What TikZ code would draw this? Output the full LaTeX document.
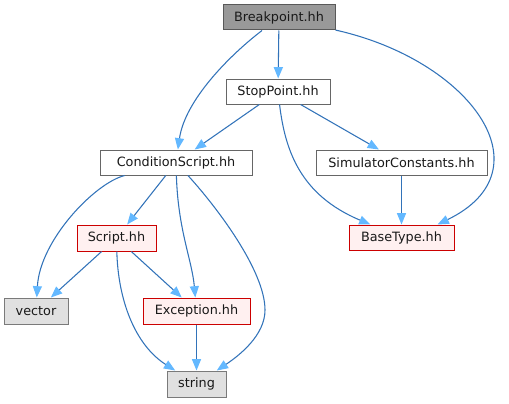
\documentclass[tikz,border=0pt]{standalone}
\usepackage{fontspec}
\setmainfont{DejaVu Sans}
\usetikzlibrary{arrows.meta,calc}
\definecolor{edgec}{RGB}{50,115,185}
\definecolor{tipc}{RGB}{99,184,255}
\definecolor{bpfill}{RGB}{153,153,153}
\definecolor{boxdraw}{RGB}{102,102,102}
\definecolor{grayfill}{RGB}{224,224,224}
\definecolor{grayedge}{RGB}{153,153,153}
\definecolor{redfill}{RGB}{255,240,240}
\definecolor{rededge}{RGB}{204,0,0}
\tikzset{
  box/.style={draw=boxdraw, fill=white, line width=0.75pt, inner sep=0pt,
    minimum height=18.75pt, font=\fontsize{9.6pt}{11pt}\selectfont, text=black!90},
  mainbox/.style={box, fill=bpfill, draw=black!65},
  graybox/.style={box, fill=grayfill, draw=grayedge!80!black},
  redbox/.style={box, fill=redfill, draw=rededge},
  edge/.style={draw=edgec, line width=0.8pt,
    -{Triangle[length=8.5pt,width=6.8pt,color=tipc,fill=tipc]}}
}
\begin{document}
\begin{tikzpicture}[x=0.75pt,y=-0.75pt]
\useasboundingbox (0,0) rectangle (509,403);
\node[mainbox, minimum width=84pt] (bp) at (279,17.5) {Breakpoint.hh};
\node[box, minimum width=78pt] (sp) at (278,91.5) {StopPoint.hh};
\node[box, minimum width=114pt] (cs) at (176,162.5) {ConditionScript.hh};
\node[box, minimum width=128.25pt] (simc) at (401.5,162.5) {SimulatorConstants.hh};
\node[redbox, minimum width=78.75pt] (bt) at (401.5,237.5) {BaseType.hh};
\node[redbox, minimum width=59.25pt, minimum height=19.5pt] (scr) at (116.5,238) {Script.hh};
\node[graybox, minimum width=48pt, minimum height=19.5pt] (vec) at (36,311) {vector};
\node[redbox, minimum width=80.25pt, minimum height=19.5pt] (exc) at (196.5,311) {Exception.hh};
\node[graybox, minimum width=44.25pt, minimum height=19.5pt] (str) at (196.5,384) {string};

\draw[edge] (bp) -- (sp);
\draw[edge] (bp) .. controls (230,55) and (185,100) .. (cs);
\draw[edge] (bp) .. controls (470,60) and (550,170) .. ($(bt.north)+(36,0)$);
\draw[edge] (sp) -- (cs);
\draw[edge] (sp) -- (simc);
\draw[edge] (sp) .. controls (285,150) and (300,195) .. (bt);
\draw[edge] (simc) -- (bt);
\draw[edge] (cs) .. controls (95,183) and (40,240) .. (vec);
\draw[edge] (cs) -- (scr);
\draw[edge] (cs) .. controls (178,230) and (192,260) .. (exc);
\draw[edge] (cs) .. controls (215,205) and (265,270) .. (265,310) .. controls (265,335) and (240,355) .. (str);
\draw[edge] (scr) -- (vec);
\draw[edge] (scr) -- (exc);
\draw[edge] (scr) .. controls (118,300) and (135,345) .. (str);
\draw[edge] (exc) -- (str);
\end{tikzpicture}
\end{document}
